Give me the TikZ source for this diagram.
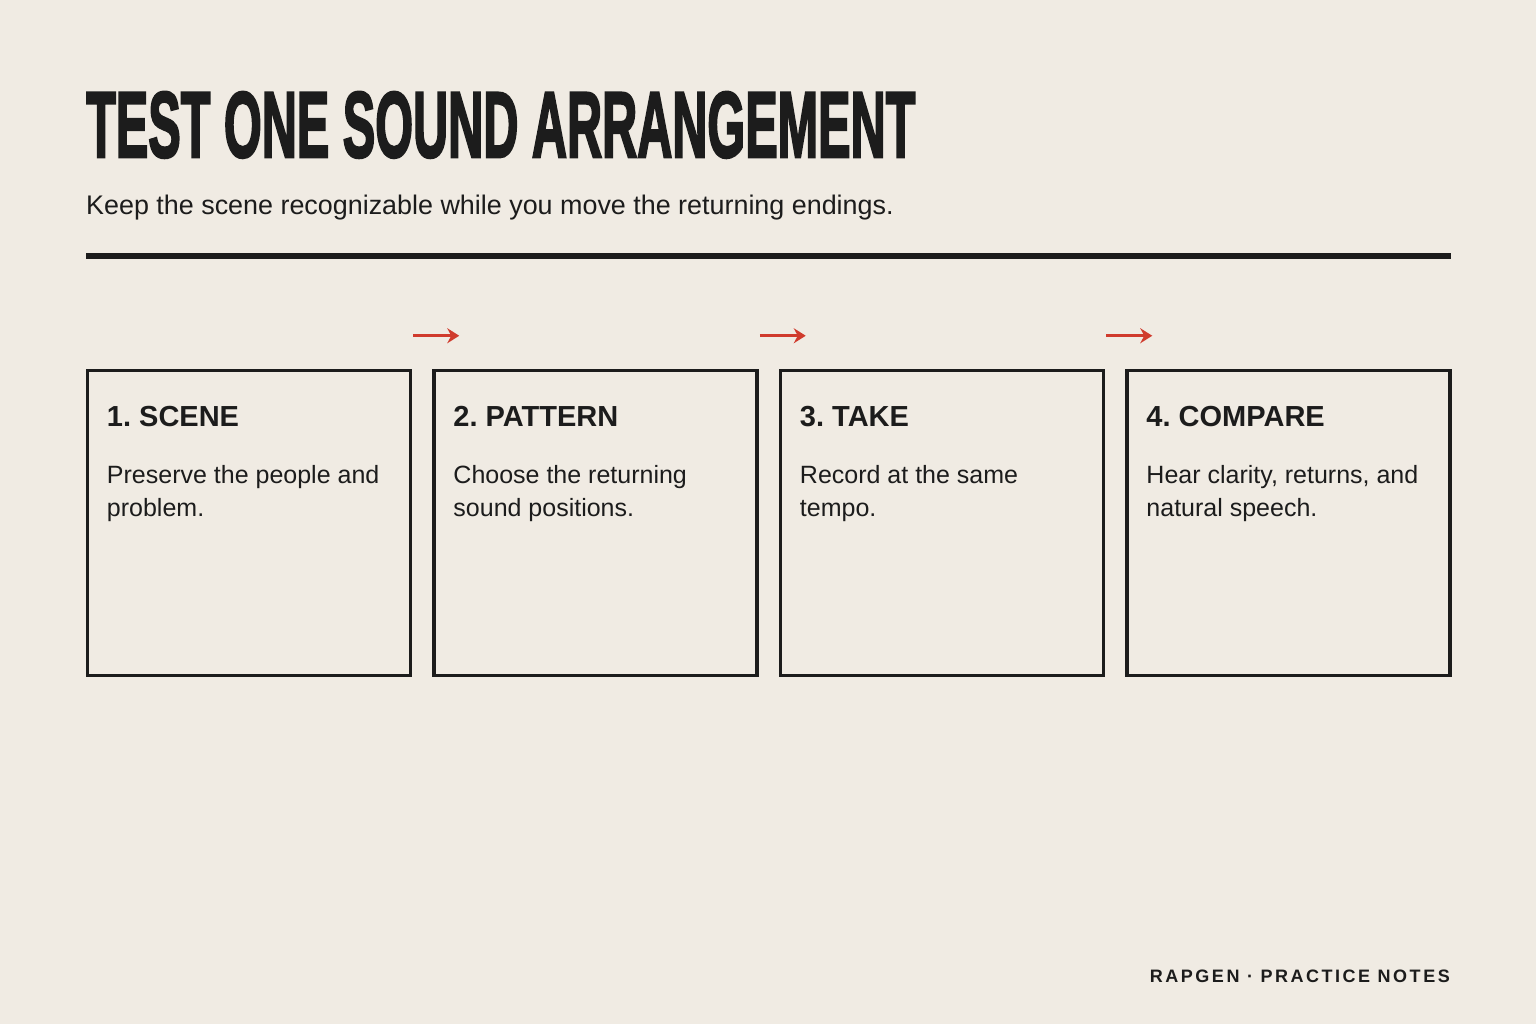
\documentclass[tikz,border=0pt]{standalone}
\usepackage{fontspec}
\usepackage{graphicx}
\setmainfont{Liberation Sans}
\newfontfamily\titlefont{Liberation Sans Bold}[FakeBold=3]
\newfontfamily\footfont{Liberation Sans Bold}[LetterSpace=14]
\usetikzlibrary{arrows.meta, positioning}
\definecolor{paper}{RGB}{240,235,227}
\definecolor{ink}{RGB}{28,28,28}
\definecolor{accent}{RGB}{208,59,45}
\tikzstyle{stepbox}=[rectangle, draw=ink, line width=3.5pt, minimum width=323pt, minimum height=305pt, inner sep=0pt, outer sep=0pt]
\tikzstyle{steptitle}=[anchor=base west, inner sep=0pt, text=ink, font=\fontsize{29}{33}\selectfont\bfseries]
\tikzstyle{stepnote}=[anchor=base west, inner sep=0pt, text=ink, align=left, font=\fontsize{25}{33}\selectfont]
\tikzstyle{flow}=[draw=accent, line width=2.75pt, -{Stealth[length=12pt, width=15pt, inset=4pt]}]

\begin{document}
\frenchspacing
\begin{tikzpicture}[x=1pt, y=-1pt]
          \useasboundingbox (0,0) rectangle (1536,1024);
          \fill[paper] (0,0) rectangle (1536,1024);
          % heading
          \node[anchor=base west, inner sep=0pt, text=ink] (title) at (86,157) {\resizebox{829pt}{65pt}{\titlefont TEST ONE SOUND ARRANGEMENT}};
          \node[anchor=base west, inner sep=0pt, text=ink, font=\fontsize{26.9}{30}\selectfont] (lede) at (86,215) {Keep the scene recognizable while you move the returning endings.};
          \draw[ink, line width=6pt] (86,256) -- (1451,256);
          % steps
          \node[stepbox] (s1) at (249,523) {};
          \node[stepbox] (s2) [right=23.5pt of s1] {};
          \node[stepbox] (s3) [right=23.5pt of s2] {};
          \node[stepbox] (s4) [right=23.5pt of s3] {};
          \node[steptitle] (h1) at ([xshift=19.25pt, yshift=-56.25pt]s1.north west) {1. SCENE};
          \node[stepnote] (n1) at ([xshift=19.25pt, yshift=-146.25pt]s1.north west) {Preserve the people and\\problem.};
          \node[steptitle] (h2) at ([xshift=19.25pt, yshift=-56.25pt]s2.north west) {2. PATTERN};
          \node[stepnote] (n2) at ([xshift=19.25pt, yshift=-146.25pt]s2.north west) {Choose the returning\\sound positions.};
          \node[steptitle] (h3) at ([xshift=19.25pt, yshift=-56.25pt]s3.north west) {3. TAKE};
          \node[stepnote] (n3) at ([xshift=19.25pt, yshift=-146.25pt]s3.north west) {Record at the same\\tempo.};
          \node[steptitle] (h4) at ([xshift=19.25pt, yshift=-56.25pt]s4.north west) {4. COMPARE};
          \node[stepnote] (n4) at ([xshift=19.25pt, yshift=-146.25pt]s4.north west) {Hear clarity, returns, and\\natural speech.};
          % flow arrows above the gaps
          \coordinate (f1s) at ([xshift=2.75pt, yshift=34.75pt]s1.north east);
          \coordinate (f1e) at ([xshift=25.25pt, yshift=34.75pt]s2.north west);
          \coordinate (f2s) at ([xshift=2.75pt, yshift=34.75pt]s2.north east);
          \coordinate (f2e) at ([xshift=25.25pt, yshift=34.75pt]s3.north west);
          \coordinate (f3s) at ([xshift=2.75pt, yshift=34.75pt]s3.north east);
          \coordinate (f3e) at ([xshift=25.25pt, yshift=34.75pt]s4.north west);
          \draw[flow] (f1s) -- (f1e);
          \draw[flow] (f2s) -- (f2e);
          \draw[flow] (f3s) -- (f3e);
          % footer
          \node[anchor=base east, inner sep=0pt, text=ink, font=\footfont\fontsize{18}{20}\selectfont] (foot) at (1450,982) {RAPGEN · PRACTICE NOTES};
        \end{tikzpicture}
\end{document}
